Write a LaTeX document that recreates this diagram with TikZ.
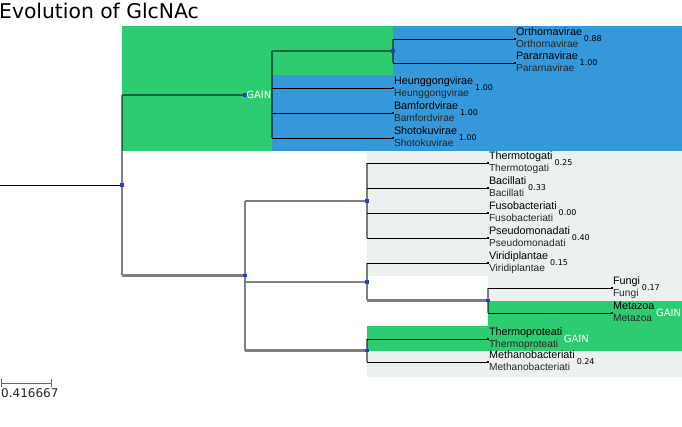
\documentclass[tikz,border=0pt]{standalone}
\usepackage{fontspec}
\setmainfont{Liberation Sans}
\newfontfamily\dvs{DejaVu Sans}
\definecolor{gaingreen}{HTML}{2ECC71}
\definecolor{clblue}{HTML}{3498DB}
\definecolor{clgray}{HTML}{ECF0F1}
\definecolor{ndblue}{HTML}{1F3FD0}
\tikzset{
  iedge/.style={draw=black, draw opacity=0.5, line width=2.1pt},
  ledge/.style={draw=black, line width=0.9pt},
  ndot/.style={fill=ndblue, inner sep=0, minimum size=3.5pt, rectangle},
  ldot/.style={fill=black, inner sep=0, minimum size=2.6pt, rectangle},
  topname/.style={anchor=base west, inner sep=0, font=\fontsize{10.8}{10.8}\selectfont},
  botname/.style={anchor=base west, inner sep=0, font=\fontsize{10.2}{10.2}\selectfont, text=black!85},
  valtext/.style={anchor=west, inner sep=0, xshift=1.5pt, font=\dvs\fontsize{8}{8}\selectfont},
  gaintext/.style={anchor=west, inner sep=0, xshift=1.2pt, font=\dvs\fontsize{10}{10}\selectfont, text=white},
  scalebar/.style={draw=black!60, line width=1pt},
}
\newcommand\leaflabels[4]{%
  \node[ldot] (#1-d) at (#1) {};
  \node[topname] (#1-t) at ([xshift=0.8pt,yshift=3.3pt]#1) {#2};
  \node[botname] (#1-b) at ([xshift=0.8pt,yshift=-8.5pt]#1) {#2};
  \node[#4] (#1-v) at (#1-t.east |- #1) {#3};
}
\begin{document}
\begin{tikzpicture}[x=1pt,y=-1pt]
\useasboundingbox (0,0) rectangle (682,427);
% backgrounds
\fill[gaingreen] (122,26) rectangle (393,151);
\fill[clblue] (272,75) rectangle (393,151);
\fill[clblue] (393,26) rectangle (682,151);
\fill[clgray] (367,151) rectangle (682,377);
\fill[white] (367,276) rectangle (488,326);
\fill[gaingreen] (488,301) rectangle (682,326);
\fill[gaingreen] (367,326) rectangle (682,351);
% title
\node[anchor=base west, inner sep=0, font=\dvs\fontsize{20.3}{20.3}\selectfont] (title) at (-1,18.8) {Evolution of GlcNAc};
% tree coordinates
\coordinate (start) at (0,185.25);
\coordinate (R) at (122,185.25);
\coordinate (A) at (245,95);
\coordinate (V) at (272,95);
\coordinate (RNA) at (393,51);
\coordinate (B) at (245,275.5);
\coordinate (C) at (367,201);
\coordinate (D) at (367,282);
\coordinate (E) at (488,300.5);
\coordinate (F) at (367,350.5);
\coordinate (orth) at (515,39);
\coordinate (para) at (515,63);
\coordinate (heung) at (393,88);
\coordinate (bamf) at (393,113);
\coordinate (shoto) at (393,138);
\coordinate (tmtg) at (488,163);
\coordinate (bacl) at (488,188);
\coordinate (fuso) at (488,213);
\coordinate (pseu) at (488,238);
\coordinate (viri) at (488,263);
\coordinate (fung) at (612,288);
\coordinate (meta) at (612,313);
\coordinate (tprt) at (488,339);
\coordinate (meth) at (488,362);
% internal branches
\draw[iedge]
  (R|-A) -- (R|-B) (R|-A) -- (A) (R|-B) -- (B)
  (V|-RNA) -- (V|-shoto) (V|-RNA) -- (RNA)
  (RNA|-orth) -- (RNA|-para)
  (B|-C) -- (B|-F) (B|-C) -- (C) (B|-D) -- (D) (B|-F) -- (F)
  (C|-tmtg) -- (C|-pseu)
  (D|-viri) -- (D|-E) (D|-E) -- (E)
  (E|-fung) -- (E|-meta)
  (F|-tprt) -- (F|-meth);
% root and leaf branches
\draw[ledge] (start) -- (R);
\draw[ledge] (RNA|-orth) -- (orth) (RNA|-para) -- (para);
\draw[ledge] (V|-heung) -- (heung) (V|-bamf) -- (bamf) (V|-shoto) -- (shoto);
\draw[ledge] (C|-tmtg) -- (tmtg) (C|-bacl) -- (bacl) (C|-fuso) -- (fuso) (C|-pseu) -- (pseu);
\draw[ledge] (D|-viri) -- (viri);
\draw[ledge] (E|-fung) -- (fung) (E|-meta) -- (meta);
\draw[ledge] (F|-tprt) -- (tprt) (F|-meth) -- (meth);
% internal node dots
\foreach \n in {R,A,RNA,B,C,D,E,F} \node[ndot] (\n-dot) at (\n) {};
% GAIN on the top clade
\node[gaintext] (gainA) at (A) {GAIN};
% leaves
\leaflabels{orth}{Orthornavirae}{0.88}{valtext}
\leaflabels{para}{Pararnavirae}{1.00}{valtext}
\leaflabels{heung}{Heunggongvirae}{1.00}{valtext}
\leaflabels{bamf}{Bamfordvirae}{1.00}{valtext}
\leaflabels{shoto}{Shotokuvirae}{1.00}{valtext}
\leaflabels{tmtg}{Thermotogati}{0.25}{valtext}
\leaflabels{bacl}{Bacillati}{0.33}{valtext}
\leaflabels{fuso}{Fusobacteriati}{0.00}{valtext}
\leaflabels{pseu}{Pseudomonadati}{0.40}{valtext}
\leaflabels{viri}{Viridiplantae}{0.15}{valtext}
\leaflabels{fung}{Fungi}{0.17}{valtext}
\leaflabels{meta}{Metazoa}{GAIN}{gaintext}
\leaflabels{tprt}{Thermoproteati}{GAIN}{gaintext}
\leaflabels{meth}{Methanobacteriati}{0.24}{valtext}
% scale bar
\coordinate (sb0) at (1.5,383);
\coordinate (sb1) at (51,383);
\draw[scalebar] (sb0) -- (sb1) ([yshift=4pt]sb0) -- ([yshift=-4pt]sb0) ([yshift=4pt]sb1) -- ([yshift=-4pt]sb1);
\node[anchor=base west, inner sep=0, font=\dvs\fontsize{12}{12}\selectfont, text=black!85] (sblabel) at (1,397) {0.416667};
\end{tikzpicture}
\end{document}
